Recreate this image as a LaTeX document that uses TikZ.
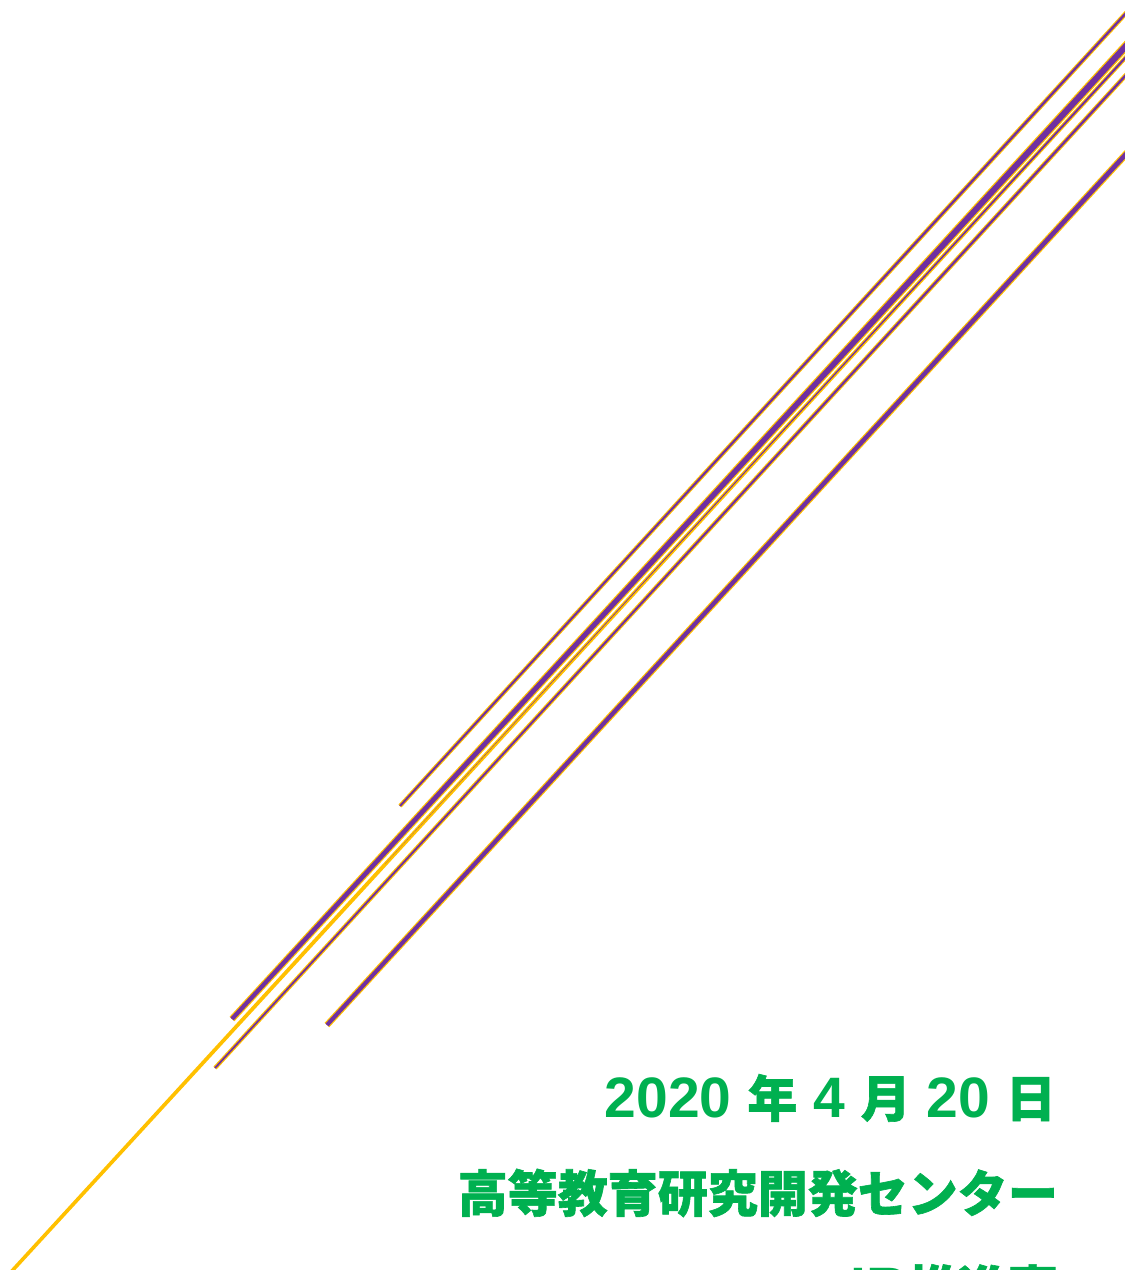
\documentclass[tikz,border=0pt]{standalone}
\usepackage{fontspec}
\newfontfamily\jp{Noto Sans CJK JP}[BoldFeatures={FakeBold=1.2}]
\newfontfamily\ar{Liberation Sans}
\usetikzlibrary{calc}
\definecolor{lpurple}{HTML}{7030A0}
\definecolor{lgold}{HTML}{FFC000}
\definecolor{tgreen}{HTML}{00B050}
\newcommand\tpline[5]{\fill[#5] ($(#1)!#3!90:(#2)$) -- ($(#2)!#4!-90:(#1)$) -- ($(#2)!#4!90:(#1)$) -- ($(#1)!#3!-90:(#2)$) -- cycle;}
\newcommand\dg[1]{{\ar\bfseries\fontsize{57bp}{60bp}\selectfont #1}}
\tikzset{txt/.style={inner sep=0pt, anchor=base east, text=tgreen, font=\jp\bfseries\fontsize{50bp}{60bp}\selectfont}}
\begin{document}
\begin{tikzpicture}[x=1bp,y=-1bp]
\useasboundingbox (0,0) rectangle (1125,1270);
\clip (0,0) rectangle (1125,1270);
\coordinate (a1) at (400,806); \coordinate (a2) at (1160,-24);
\coordinate (b1) at (232,1019); \coordinate (b2) at (1160,9);
\coordinate (c1) at (0,1284); \coordinate (c2) at (1160,20);
\coordinate (cm) at (385,864);
\coordinate (d1) at (215,1068); \coordinate (d2) at (1160,38);
\coordinate (e1) at (327,1025); \coordinate (e2) at (1160,117);
\tpline{a1}{a2}{2.1bp}{2.3bp}{lgold}
\tpline{a1}{a2}{1bp}{1.2bp}{lpurple}
\tpline{b1}{b2}{3.3bp}{4.4bp}{lgold}
\tpline{b1}{b2}{2.1bp}{3.1bp}{lpurple}
\tpline{c1}{c2}{1.8bp}{2.1bp}{lgold}
\tpline{cm}{c2}{0bp}{1.1bp}{lpurple}
\tpline{d1}{d2}{2.1bp}{2.3bp}{lgold}
\tpline{d1}{d2}{0.9bp}{1.2bp}{lpurple}
\tpline{e1}{e2}{3.2bp}{3.5bp}{lgold}
\tpline{e1}{e2}{2bp}{2.3bp}{lpurple}
\node[txt] (date) at (1056,1117) {\dg{2020 }年\dg{ 4 }月\dg{ 20 }日};
\node[txt] (org) at (1058,1212) {高等教育研究開発センター};
\node[txt] (dept) at (1058,1307) {\dg{IR}推進室};
\end{tikzpicture}
\end{document}
